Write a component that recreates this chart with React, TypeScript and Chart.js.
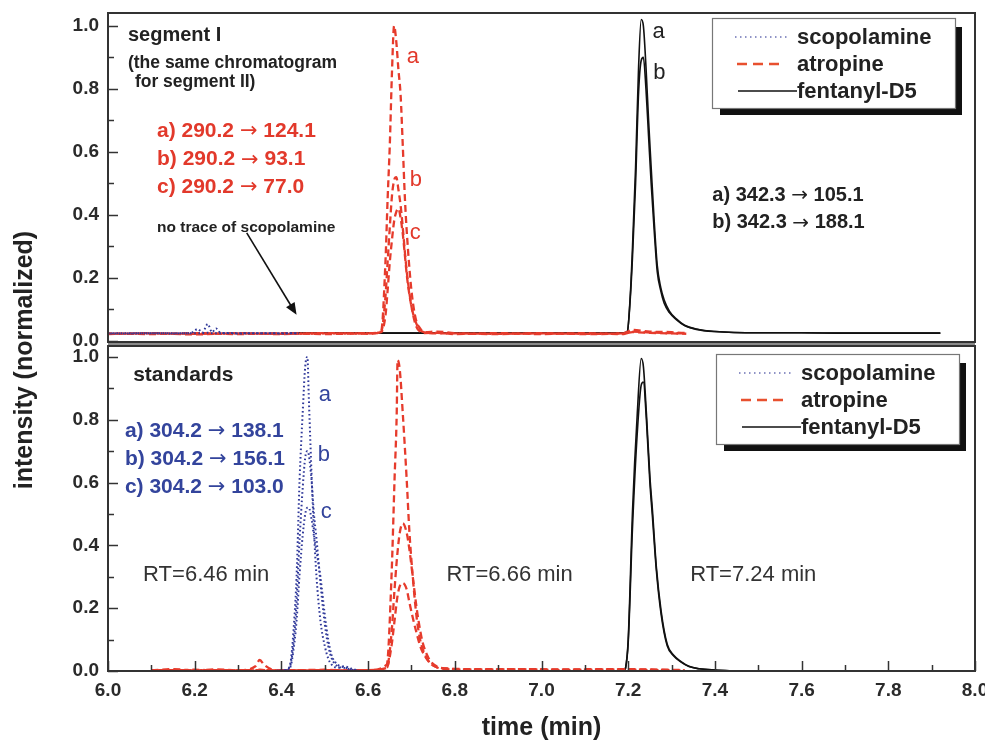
import React, { useEffect, useRef } from 'react';
import { Chart, registerables } from 'chart.js';

Chart.register(...registerables);

const FONT = '"Liberation Sans", Arial, sans-serif';
const ARROW_FONT = '"DejaVu Sans", sans-serif';

// ---- axes ----
const xMajorTicks = [6.0, 6.2, 6.4, 6.6, 6.8, 7.0, 7.2, 7.4, 7.6, 7.8, 8.0];
const xMinorTicks = [6.1, 6.3, 6.5, 6.7, 6.9, 7.1, 7.3, 7.5, 7.7, 7.9];
const yMajorTicks = [0.0, 0.2, 0.4, 0.6, 0.8, 1.0];
const yMinorTicks = [0.1, 0.3, 0.5, 0.7, 0.9];
const legendLabels = ['scopolamine', 'atropine', 'fentanyl-D5'];

// ---- top panel (segment I) ----
const topScopT = [6.0, 6.05, 6.1, 6.15, 6.19, 6.207, 6.218, 6.23, 6.24, 6.249, 6.26, 6.3, 6.35, 6.4, 6.44];
const topScopA = [0.025, 0.025, 0.025, 0.025, 0.025, 0.038, 0.027, 0.054, 0.028, 0.04, 0.026, 0.025, 0.025, 0.025, 0.025];
const topScopB = [0.024, 0.024, 0.025, 0.024, 0.025, 0.025, 0.025, 0.026, 0.025, 0.025, 0.025, 0.024, 0.025, 0.024, 0.025];

const topAtrT = [6.0, 6.1, 6.2, 6.3, 6.4, 6.5, 6.6, 6.63, 6.64, 6.645, 6.65, 6.655, 6.66, 6.665, 6.67, 6.675, 6.68, 6.685, 6.69, 6.7, 6.71, 6.72, 6.73, 6.76, 6.8, 6.9, 7.0, 7.1, 7.19, 7.21, 7.25, 7.3, 7.334];
const topAtrA = [0.022, 0.025, 0.021, 0.025, 0.022, 0.025, 0.023, 0.03, 0.25, 0.45, 0.62, 0.85, 1.0, 0.95, 0.86, 0.78, 0.62, 0.45, 0.33, 0.16, 0.07, 0.04, 0.028, 0.03, 0.025, 0.022, 0.025, 0.022, 0.025, 0.035, 0.03, 0.028, 0.025];
const topAtrB = [0.024, 0.022, 0.025, 0.022, 0.025, 0.022, 0.025, 0.03, 0.14, 0.25, 0.36, 0.46, 0.51, 0.52, 0.48, 0.43, 0.36, 0.28, 0.21, 0.11, 0.05, 0.03, 0.025, 0.026, 0.022, 0.025, 0.022, 0.025, 0.022, 0.03, 0.027, 0.025, 0.024];
const topAtrC = [0.023, 0.024, 0.023, 0.024, 0.023, 0.024, 0.024, 0.028, 0.08, 0.16, 0.25, 0.32, 0.38, 0.41, 0.42, 0.39, 0.34, 0.27, 0.2, 0.11, 0.06, 0.035, 0.027, 0.024, 0.024, 0.023, 0.024, 0.023, 0.024, 0.028, 0.026, 0.024, 0.023];

const topFenT = [6.42, 6.6, 6.8, 7.0, 7.15, 7.19, 7.198, 7.205, 7.21, 7.217, 7.224, 7.23, 7.235, 7.241, 7.247, 7.253, 7.26, 7.267, 7.275, 7.283, 7.295, 7.311, 7.33, 7.357, 7.4, 7.5, 7.6, 7.7, 7.8, 7.92];
const topFenA = [0.025, 0.025, 0.025, 0.025, 0.025, 0.026, 0.03, 0.15, 0.3, 0.55, 0.87, 1.02, 1.0, 0.87, 0.7, 0.55, 0.38, 0.24, 0.17, 0.13, 0.095, 0.07, 0.05, 0.038, 0.03, 0.026, 0.026, 0.025, 0.025, 0.025];
const topFenB = [0.025, 0.025, 0.025, 0.025, 0.025, 0.026, 0.03, 0.14, 0.27, 0.5, 0.79, 0.89, 0.9, 0.8, 0.65, 0.5, 0.35, 0.22, 0.16, 0.12, 0.09, 0.068, 0.049, 0.037, 0.03, 0.026, 0.026, 0.025, 0.025, 0.025];

// ---- bottom panel (standards) ----
const botScopT = [6.38, 6.41, 6.42, 6.43, 6.435, 6.442, 6.449, 6.455, 6.46, 6.463, 6.47, 6.475, 6.481, 6.49, 6.5, 6.508, 6.516, 6.53, 6.545, 6.56, 6.58];
const botScopA = [0.0, 0.003, 0.02, 0.17, 0.3, 0.61, 0.82, 0.97, 1.0, 0.88, 0.61, 0.45, 0.3, 0.16, 0.08, 0.04, 0.02, 0.01, 0.015, 0.008, 0.0];
const botScopB = [0.0, 0.003, 0.015, 0.12, 0.22, 0.42, 0.58, 0.68, 0.7, 0.69, 0.6, 0.5, 0.42, 0.28, 0.15, 0.08, 0.04, 0.015, 0.01, 0.005, 0.0];
const botScopC = [0.0, 0.002, 0.01, 0.09, 0.16, 0.31, 0.43, 0.5, 0.52, 0.52, 0.48, 0.43, 0.38, 0.3, 0.18, 0.1, 0.05, 0.02, 0.012, 0.005, 0.0];

const botAtrT = [6.1, 6.15, 6.2, 6.25, 6.3, 6.34, 6.35, 6.36, 6.38, 6.4, 6.45, 6.5, 6.55, 6.6, 6.643, 6.654, 6.661, 6.666, 6.668, 6.673, 6.68, 6.689, 6.695, 6.703, 6.712, 6.72, 6.726, 6.74, 6.758, 6.78, 6.85, 6.95, 7.05, 7.15, 7.25, 7.33];
const botAtrA = [0.002, 0.006, 0.002, 0.005, 0.002, 0.015, 0.035, 0.02, 0.004, 0.002, 0.003, 0.004, 0.002, 0.003, 0.02, 0.3, 0.61, 0.82, 0.99, 0.96, 0.82, 0.61, 0.45, 0.3, 0.17, 0.1, 0.07, 0.03, 0.012, 0.008, 0.006, 0.006, 0.005, 0.006, 0.005, 0.003];
const botAtrB = [0.003, 0.002, 0.004, 0.002, 0.003, 0.002, 0.004, 0.003, 0.002, 0.003, 0.002, 0.003, 0.002, 0.003, 0.01, 0.12, 0.26, 0.35, 0.38, 0.44, 0.47, 0.44, 0.39, 0.3, 0.2, 0.13, 0.09, 0.04, 0.015, 0.008, 0.005, 0.006, 0.004, 0.005, 0.004, 0.002];
const botAtrC = [0.002, 0.003, 0.002, 0.003, 0.002, 0.003, 0.002, 0.003, 0.002, 0.003, 0.002, 0.003, 0.002, 0.002, 0.01, 0.08, 0.16, 0.22, 0.24, 0.27, 0.28, 0.26, 0.22, 0.17, 0.12, 0.08, 0.06, 0.03, 0.012, 0.006, 0.004, 0.005, 0.003, 0.004, 0.003, 0.002];

const botFenT = [7.15, 7.19, 7.194, 7.2, 7.21, 7.221, 7.23, 7.235, 7.242, 7.25, 7.256, 7.265, 7.276, 7.29, 7.305, 7.322, 7.34, 7.364, 7.4, 7.45];
const botFenA = [0.0, 0.0, 0.01, 0.1, 0.51, 0.82, 0.995, 0.97, 0.82, 0.62, 0.51, 0.33, 0.19, 0.085, 0.05, 0.03, 0.015, 0.007, 0.003, 0.0];
const botFenB = [0.0, 0.0, 0.01, 0.09, 0.46, 0.76, 0.91, 0.92, 0.8, 0.6, 0.49, 0.32, 0.18, 0.08, 0.048, 0.028, 0.014, 0.007, 0.003, 0.0];

// ---- colours ----
const BLUE = '#30399a';
const RED = '#e63b2c';
const BLACK = '#111111';
const RED_TEXT = '#e2392b';
const BLUE_TEXT = '#33449c';
const DARK_TEXT = '#222222';

// ---- annotations (data coordinates) ----
type Note = { text: string; t: number; v: number; panel: 'top' | 'bot'; font: string; color: string };
const notes: Note[] = [
  { text: 'segment I', t: 6.046, v: 0.971, panel: 'top', font: 'bold 20px', color: DARK_TEXT },
  { text: '(the same chromatogram', t: 6.046, v: 0.883, panel: 'top', font: 'bold 17.5px', color: DARK_TEXT },
  { text: 'for segment II)', t: 6.062, v: 0.822, panel: 'top', font: 'bold 17.5px', color: DARK_TEXT },
  { text: 'a) 290.2 \u2192 124.1', t: 6.113, v: 0.667, panel: 'top', font: 'bold 21px', color: RED_TEXT },
  { text: 'b) 290.2 \u2192 93.1', t: 6.113, v: 0.577, panel: 'top', font: 'bold 21px', color: RED_TEXT },
  { text: 'c) 290.2 \u2192 77.0', t: 6.113, v: 0.489, panel: 'top', font: 'bold 21px', color: RED_TEXT },
  { text: 'no trace of scopolamine', t: 6.113, v: 0.359, panel: 'top', font: 'bold 15.5px', color: DARK_TEXT },
  { text: 'a', t: 6.689, v: 0.902, panel: 'top', font: '22px', color: RED_TEXT },
  { text: 'b', t: 6.696, v: 0.511, panel: 'top', font: '22px', color: RED_TEXT },
  { text: 'c', t: 6.696, v: 0.343, panel: 'top', font: '22px', color: RED_TEXT },
  { text: 'a', t: 7.256, v: 0.981, panel: 'top', font: '22px', color: DARK_TEXT },
  { text: 'b', t: 7.258, v: 0.851, panel: 'top', font: '22px', color: DARK_TEXT },
  { text: 'a) 342.3 \u2192 105.1', t: 7.394, v: 0.463, panel: 'top', font: 'bold 20px', color: DARK_TEXT },
  { text: 'b) 342.3 \u2192 188.1', t: 7.394, v: 0.375, panel: 'top', font: 'bold 20px', color: DARK_TEXT },
  { text: 'standards', t: 6.058, v: 0.943, panel: 'bot', font: 'bold 21px', color: DARK_TEXT },
  { text: 'a) 304.2 \u2192 138.1', t: 6.039, v: 0.764, panel: 'bot', font: 'bold 21px', color: BLUE_TEXT },
  { text: 'b) 304.2 \u2192 156.1', t: 6.039, v: 0.675, panel: 'bot', font: 'bold 21px', color: BLUE_TEXT },
  { text: 'c) 304.2 \u2192 103.0', t: 6.039, v: 0.586, panel: 'bot', font: 'bold 21px', color: BLUE_TEXT },
  { text: 'a', t: 6.486, v: 0.879, panel: 'bot', font: '22px', color: BLUE_TEXT },
  { text: 'b', t: 6.484, v: 0.688, panel: 'bot', font: '22px', color: BLUE_TEXT },
  { text: 'c', t: 6.491, v: 0.506, panel: 'bot', font: '22px', color: BLUE_TEXT },
  { text: 'RT=6.46 min', t: 6.081, v: 0.306, panel: 'bot', font: '22px', color: '#333333' },
  { text: 'RT=6.66 min', t: 6.781, v: 0.306, panel: 'bot', font: '22px', color: '#333333' },
  { text: 'RT=7.24 min', t: 7.343, v: 0.306, panel: 'bot', font: '22px', color: '#333333' },
];
const arrowFrom = { t: 6.32, v: 0.343 };
const arrowTo = { t: 6.435, v: 0.083 };

const pts = (t: number[], v: number[]) => t.map((x, i) => ({ x, y: v[i] }));

function lineDs(label: string, data: any[], axis: string, kind: 'dot' | 'dash' | 'solid', dashOffset = 0) {
  const base: any = {
    label,
    data,
    yAxisID: axis,
    pointRadius: 0,
    fill: false,
    cubicInterpolationMode: 'monotone',
    borderDashOffset: dashOffset,
  };
  if (kind === 'dot') {
    return { ...base, borderColor: BLUE, borderWidth: 2, borderDash: [1.6, 2.6] };
  }
  if (kind === 'dash') {
    return { ...base, borderColor: RED, borderWidth: 2.3, borderDash: [7, 4] };
  }
  return { ...base, borderColor: BLACK, borderWidth: 1.6 };
}

// draws text, rendering the arrow glyph with a font whose arrow sits at mid height
function drawRich(ctx: CanvasRenderingContext2D, text: string, x: number, y: number, font: string) {
  const parts = text.split('\u2192');
  const size = parseFloat(font.replace(/[^0-9.]/g, '')) || 20;
  let cx = x;
  parts.forEach((p, i) => {
    ctx.font = `${font} ${FONT}`;
    ctx.fillText(p, cx, y);
    cx += ctx.measureText(p).width;
    if (i < parts.length - 1) {
      ctx.font = `${Math.round(size)}px ${ARROW_FONT}`;
      ctx.fillText('\u2192', cx, y + 1);
      cx += ctx.measureText('\u2192').width;
    }
  });
}

function drawLegend(ctx: CanvasRenderingContext2D, bx: number, by: number) {
  const w = 243;
  const h = 90;
  ctx.fillStyle = '#111';
  ctx.fillRect(bx + 8, by + 9, w - 1, h - 2);
  ctx.fillStyle = '#fff';
  ctx.fillRect(bx, by, w, h);
  ctx.strokeStyle = '#777';
  ctx.lineWidth = 1.2;
  ctx.strokeRect(bx + 0.5, by + 0.5, w, h);
  const rows = [by + 19, by + 46, by + 73];
  ctx.save();
  ctx.strokeStyle = '#6b70b4';
  ctx.lineWidth = 1.5;
  ctx.setLineDash([1.5, 3.5]);
  ctx.beginPath();
  ctx.moveTo(bx + 23, rows[0]);
  ctx.lineTo(bx + 77, rows[0]);
  ctx.stroke();
  ctx.strokeStyle = '#e8502f';
  ctx.lineWidth = 2.5;
  ctx.setLineDash([10, 6]);
  ctx.beginPath();
  ctx.moveTo(bx + 25, rows[1]);
  ctx.lineTo(bx + 69, rows[1]);
  ctx.stroke();
  ctx.setLineDash([]);
  ctx.strokeStyle = '#111';
  ctx.lineWidth = 1.6;
  ctx.beginPath();
  ctx.moveTo(bx + 26, rows[2]);
  ctx.lineTo(bx + 85, rows[2]);
  ctx.stroke();
  ctx.restore();
  ctx.fillStyle = DARK_TEXT;
  ctx.font = `bold 22px ${FONT}`;
  ctx.textAlign = 'left';
  ctx.textBaseline = 'middle';
  legendLabels.forEach((lab, i) => ctx.fillText(lab, bx + 85, rows[i] + 1));
}

const overlayPlugin = {
  id: 'overlay',
  afterDraw(chart: any) {
    const ctx: CanvasRenderingContext2D = chart.ctx;
    const xs = chart.scales.x;
    const yT = chart.scales.yTop;
    const yB = chart.scales.yBot;
    const L = chart.chartArea.left;
    const R = chart.chartArea.right;
    ctx.save();

    // inward ticks
    ctx.strokeStyle = '#333';
    ctx.lineWidth = 1.5;
    const yTick = (sc: any, vals: number[], len: number) => {
      vals.forEach((v) => {
        const py = Math.round(sc.getPixelForValue(v)) + 0.5;
        ctx.beginPath();
        ctx.moveTo(L, py);
        ctx.lineTo(L + len, py);
        ctx.stroke();
      });
    };
    yTick(yT, yMajorTicks, 10);
    yTick(yT, yMinorTicks, 6);
    yTick(yB, yMajorTicks, 10);
    yTick(yB, yMinorTicks, 6);
    const xb = yB.bottom;
    const xTick = (vals: number[], len: number) => {
      vals.forEach((v) => {
        const px = Math.round(xs.getPixelForValue(v)) + 0.5;
        ctx.beginPath();
        ctx.moveTo(px, xb);
        ctx.lineTo(px, xb - len);
        ctx.stroke();
      });
    };
    xTick(xMajorTicks, 10);
    xTick(xMinorTicks, 6);

    // frames
    const B = yT.bottom;
    ctx.fillStyle = '#8a8a8a';
    ctx.fillRect(L, B - 2, R - L, 4);
    ctx.strokeStyle = '#333';
    ctx.lineWidth = 2;
    ctx.strokeRect(L, yT.top + 1, R - L, B - 2 - (yT.top + 1));
    ctx.strokeRect(L, B + 2, R - L, yB.bottom - (B + 2));

    // annotations
    ctx.textAlign = 'left';
    ctx.textBaseline = 'middle';
    notes.forEach((n) => {
      const sc = n.panel === 'top' ? yT : yB;
      ctx.fillStyle = n.color;
      drawRich(ctx, n.text, xs.getPixelForValue(n.t), sc.getPixelForValue(n.v), n.font);
    });

    // arrow
    const ax0 = xs.getPixelForValue(arrowFrom.t);
    const ay0 = yT.getPixelForValue(arrowFrom.v);
    const ax1 = xs.getPixelForValue(arrowTo.t);
    const ay1 = yT.getPixelForValue(arrowTo.v);
    const ang = Math.atan2(ay1 - ay0, ax1 - ax0);
    ctx.strokeStyle = '#111';
    ctx.fillStyle = '#111';
    ctx.lineWidth = 1.6;
    ctx.beginPath();
    ctx.moveTo(ax0, ay0);
    ctx.lineTo(ax1 - 6 * Math.cos(ang), ay1 - 6 * Math.sin(ang));
    ctx.stroke();
    ctx.beginPath();
    ctx.moveTo(ax1, ay1);
    ctx.lineTo(ax1 - 12 * Math.cos(ang) + 5 * Math.sin(ang), ay1 - 12 * Math.sin(ang) - 5 * Math.cos(ang));
    ctx.lineTo(ax1 - 12 * Math.cos(ang) - 5 * Math.sin(ang), ay1 - 12 * Math.sin(ang) + 5 * Math.cos(ang));
    ctx.closePath();
    ctx.fill();

    // legends
    drawLegend(ctx, R - 263, yT.top + 6);
    drawLegend(ctx, R - 259, yB.top + 10);

    // axis titles
    ctx.fillStyle = DARK_TEXT;
    ctx.font = `bold 25px ${FONT}`;
    ctx.textAlign = 'center';
    ctx.textBaseline = 'middle';
    ctx.fillText('time (min)', (L + R) / 2, 728);
    ctx.save();
    ctx.translate(25, 360);
    ctx.rotate(-Math.PI / 2);
    ctx.fillText('intensity (normalized)', 0, 0);
    ctx.restore();

    ctx.restore();
  },
};

const tickFont = { family: FONT, size: 19, weight: 'bold' as const };

function yAxis(stackWeight: number, min: number, max: number) {
  return {
    type: 'linear' as const,
    position: 'left' as const,
    stack: 'panels',
    stackWeight,
    min,
    max,
    grid: { display: false, drawTicks: false },
    border: { display: false },
    afterBuildTicks: (scale: any) => {
      scale.ticks = yMajorTicks.map((v) => ({ value: v }));
    },
    afterFit: (scale: any) => {
      scale.width = 108;
      scale.paddingTop = 0;
      scale.paddingBottom = 0;
    },
    ticks: {
      font: tickFont,
      color: '#2a2a2a',
      padding: 9,
      autoSkip: false,
      callback: (v: any) => Number(v).toFixed(1),
    },
  };
}

export default function App() {
  const ref = useRef<HTMLCanvasElement | null>(null);
  useEffect(() => {
    if (!ref.current) return;
    const datasets = [
      lineDs('scopolamine a', pts(topScopT, topScopA), 'yTop', 'dot'),
      lineDs('scopolamine b', pts(topScopT, topScopB), 'yTop', 'dot', 2),
      lineDs('scopolamine a', pts(botScopT, botScopA), 'yBot', 'dot'),
      lineDs('scopolamine b', pts(botScopT, botScopB), 'yBot', 'dot', 1),
      lineDs('scopolamine c', pts(botScopT, botScopC), 'yBot', 'dot', 2),
      lineDs('atropine a', pts(topAtrT, topAtrA), 'yTop', 'dash'),
      lineDs('atropine b', pts(topAtrT, topAtrB), 'yTop', 'dash', 3),
      lineDs('atropine c', pts(topAtrT, topAtrC), 'yTop', 'dash', 6),
      lineDs('atropine a', pts(botAtrT, botAtrA), 'yBot', 'dash'),
      lineDs('atropine b', pts(botAtrT, botAtrB), 'yBot', 'dash', 3),
      lineDs('atropine c', pts(botAtrT, botAtrC), 'yBot', 'dash', 6),
      lineDs('fentanyl-D5 a', pts(topFenT, topFenA), 'yTop', 'solid'),
      lineDs('fentanyl-D5 b', pts(topFenT, topFenB), 'yTop', 'solid'),
      lineDs('fentanyl-D5 a', pts(botFenT, botFenA), 'yBot', 'solid'),
      lineDs('fentanyl-D5 b', pts(botFenT, botFenB), 'yBot', 'solid'),
    ];
    const chart = new Chart(ref.current, {
      type: 'line',
      data: { datasets },
      options: {
        animation: false,
        responsive: false,
        devicePixelRatio: 1,
        layout: { padding: { top: 12, right: 10, left: 0, bottom: 0 } },
        plugins: { legend: { display: false }, tooltip: { enabled: false } },
        events: [],
        scales: {
          x: {
            type: 'linear',
            position: 'bottom',
            min: 6,
            max: 8,
            grid: { display: false, drawTicks: false },
            border: { display: false },
            afterBuildTicks: (scale: any) => {
              scale.ticks = xMajorTicks.map((v) => ({ value: v }));
            },
            afterFit: (scale: any) => {
              scale.height = 71;
              scale.paddingLeft = 0;
              scale.paddingRight = 0;
            },
            ticks: {
              font: tickFont,
              color: '#2a2a2a',
              padding: 8,
              autoSkip: false,
              maxRotation: 0,
              callback: (v: any) => Number(v).toFixed(1),
            },
          },
          yBot: yAxis(327, 0, 1.041),
          yTop: yAxis(332, -0.0095, 1.044),
        } as any,
      },
      plugins: [overlayPlugin],
    });
    return () => chart.destroy();
  }, []);
  return (
    <div style={{ position: 'absolute', left: 0, top: 0, width: 985, height: 742, background: '#fff' }}>
      <canvas ref={ref} width={985} height={742} style={{ display: 'block' }} />
    </div>
  );
}
